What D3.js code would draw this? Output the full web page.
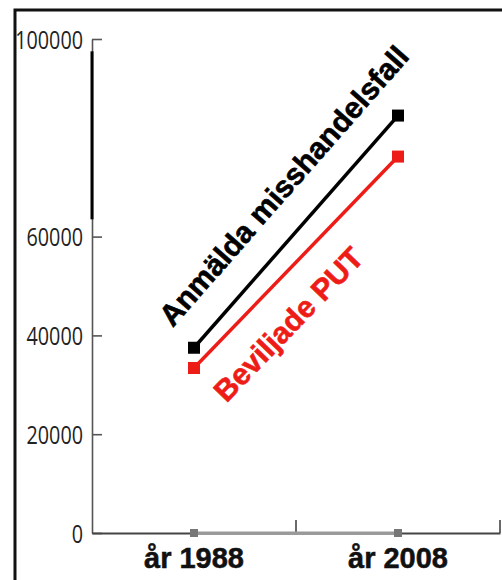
<!DOCTYPE html>
<html>
<head>
<meta charset="utf-8">
<script src="https://cdn.jsdelivr.net/npm/d3@7"></script>
<style>
  body { margin: 0; background: #fff; }
  svg { display: block; }
</style>
</head>
<body>
<svg id="chart" width="502" height="580"></svg>
<script>
// data
var years = ["år 1988", "år 2008"];
var anmalda = [37500, 84500];
var beviljade = [33400, 76200];
var baseSeries = [0, 0];
var yTicks = [0, 20000, 40000, 60000, 100000];
var seriesNames = ["Anmälda misshandelsfall", "Beviljade PUT"];

var dimensions = {
  width: 502,
  height: 580,
  margin: { top: 39, right: 2, bottom: 47, left: 92 },
};
dimensions.boundedWidth =
  dimensions.width - dimensions.margin.left - dimensions.margin.right;
dimensions.boundedHeight =
  dimensions.height - dimensions.margin.top - dimensions.margin.bottom;

var svg = d3.select("#chart");

// outer frame
svg
  .append("rect")
  .attr("x", 15)
  .attr("y", 10)
  .attr("width", 600)
  .attr("height", 700)
  .attr("fill", "none")
  .attr("stroke", "#111")
  .attr("stroke-width", 3);

var bounds = svg
  .append("g")
  .attr(
    "transform",
    "translate(" + dimensions.margin.left + "," + dimensions.margin.top + ")"
  );

var xScale = d3
  .scaleBand()
  .domain(years)
  .range([0, dimensions.boundedWidth])
  .padding(0);

var yScale = d3
  .scaleLinear()
  .domain([0, 100000])
  .range([dimensions.boundedHeight, 0]);

var xCenter = function (d, i) {
  return xScale(years[i]) + xScale.bandwidth() / 2;
};

// y axis
var yAxis = d3
  .axisLeft(yScale)
  .tickValues(yTicks)
  .tickSizeInner(-10)
  .tickSizeOuter(0)
  .tickPadding(8)
  .tickFormat(d3.format("d"));

var yAxisG = bounds.append("g").call(yAxis);
yAxisG.select(".domain").attr("stroke", "#555").attr("stroke-width", 1.6);
yAxisG.selectAll(".tick line").attr("stroke", "#555").attr("stroke-width", 1.6);
yAxisG
  .selectAll(".tick text")
  .attr("x", -9)
  .attr("dy", "0.36em")
  .style("font-family", "Open Sans, sans-serif")
  .style("font-size", "25px")
  .attr("textLength", function (d) { return String(d).length * 11.3; })
  .attr("lengthAdjust", "spacingAndGlyphs")
  .attr("fill", "#222");

// thick black piece on the y axis
bounds
  .append("line")
  .attr("x1", 0)
  .attr("x2", 0)
  .attr("y1", yScale(97500))
  .attr("y2", yScale(63500))
  .attr("stroke", "#000")
  .attr("stroke-width", 3);

// x axis
var xAxis = d3
  .axisBottom(xScale)
  .tickSizeInner(0)
  .tickSizeOuter(0)
  .tickPadding(14);

var xAxisG = bounds
  .append("g")
  .attr("transform", "translate(0," + dimensions.boundedHeight + ")")
  .call(xAxis);
xAxisG.select(".domain").attr("stroke", "#444").attr("stroke-width", 2);
xAxisG.selectAll(".tick line").remove();
xAxisG
  .selectAll(".tick text")
  .style("font-family", "Liberation Sans, Arial, sans-serif")
  .style("font-size", "29px")
  .style("font-weight", "bold")
  .attr("stroke", "#111")
  .attr("stroke-width", 0.5)
  .attr("fill", "#111");

// band boundary ticks (pointing up)
var bandEdges = years.map(function (d) {
  return xScale(d) + xScale.bandwidth();
});
bounds
  .selectAll(".bandtick")
  .data(bandEdges)
  .enter()
  .append("line")
  .attr("x1", function (d) { return d; })
  .attr("x2", function (d) { return d; })
  .attr("y1", dimensions.boundedHeight)
  .attr("y2", dimensions.boundedHeight - 13)
  .attr("stroke", "#444")
  .attr("stroke-width", 1.6);

var line = d3
  .line()
  .x(xCenter)
  .y(function (d) { return yScale(d); });

// gray zero series
bounds
  .append("path")
  .datum(baseSeries)
  .attr("d", line)
  .attr("fill", "none")
  .attr("stroke", "#999")
  .attr("stroke-width", 3);
bounds
  .selectAll(".basept")
  .data(baseSeries)
  .enter()
  .append("rect")
  .attr("x", function (d, i) { return xCenter(d, i) - 4; })
  .attr("y", function (d) { return yScale(d) - 4; })
  .attr("width", 8)
  .attr("height", 8)
  .attr("fill", "#777");

function drawSeries(values, color, label, off, t) {
  bounds
    .append("path")
    .datum(values)
    .attr("d", line)
    .attr("fill", "none")
    .attr("stroke", color)
    .attr("stroke-width", 3.5);
  bounds
    .selectAll(null)
    .data(values)
    .enter()
    .append("rect")
    .attr("x", function (d, i) { return xCenter(d, i) - 6; })
    .attr("y", function (d) { return yScale(d) - 6; })
    .attr("width", 12)
    .attr("height", 12)
    .attr("fill", color);

  var x0 = xCenter(values[0], 0), y0 = yScale(values[0]);
  var x1 = xCenter(values[1], 1), y1 = yScale(values[1]);
  var angle = (Math.atan2(y1 - y0, x1 - x0) * 180) / Math.PI;
  var len = Math.hypot(x1 - x0, y1 - y0);
  var ux = (x1 - x0) / len, uy = (y1 - y0) / len;
  // normal pointing up-left
  var nx = uy, ny = -ux;
  var cx = x0 + (x1 - x0) * t + nx * off;
  var cy = y0 + (y1 - y0) * t + ny * off;
  bounds
    .append("text")
    .attr("transform", "translate(" + cx + "," + cy + ") rotate(" + angle + ")")
    .attr("text-anchor", "middle")
    .style("font-family", "Liberation Sans, Arial, sans-serif")
    .style("font-size", "30px")
    .style("font-weight", "bold")
    .attr("stroke", color)
    .attr("stroke-width", 0.6)
    .attr("fill", color)
    .text(label);
}

drawSeries(anmalda, "#000", seriesNames[0], 29, 0.585);
drawSeries(beviljade, "#ee1c16", seriesNames[1], -48, 0.33);
</script>
</body>
</html>
